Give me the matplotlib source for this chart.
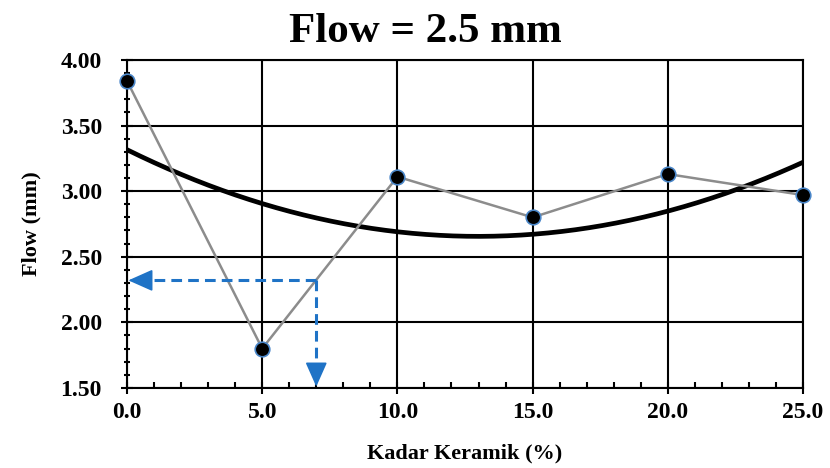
import numpy as np
import matplotlib.pyplot as plt
from matplotlib.ticker import MultipleLocator

plt.rcParams['font.family'] = ['Liberation Serif', 'DejaVu Serif']
plt.rcParams['font.weight'] = 'bold'

kadar = [0.0, 5.0, 10.0, 15.0, 20.0, 25.0]
flow = [3.84, 1.80, 3.11, 2.80, 3.13, 2.97]
target_flow = 2.32
target_kadar = 7.0

fig = plt.figure(figsize=(8.3, 4.68), dpi=100)
ax = fig.add_axes([0.153, 0.171, 0.8145, 0.701])

# quadratic trendline like excel
coef = np.polyfit(kadar, flow, 2)
xs = np.linspace(0, 25, 200)
ax.plot(xs, np.polyval(coef, xs), color='black', lw=3.4, zorder=3)

ax.plot(kadar, flow, color='#8c8c8c', lw=1.8, marker='o', ms=10.5,
        mfc='black', mec='#4a86c8', mew=1.2, zorder=4, clip_on=False)

# read-off arrows: dashed shaft + solid head
blue = '#1f73c6'
ax.plot([target_kadar, 0.5], [target_flow, target_flow], color=blue, lw=2.2,
        ls=(0, (3.5, 2)), zorder=5)
ax.plot([target_kadar, target_kadar], [target_flow, 1.62], color=blue, lw=2.2,
        ls=(0, (3.5, 2)), zorder=5)
head = dict(arrowstyle='-|>,head_length=0.9,head_width=0.4', color=blue,
            lw=1.2, mutation_scale=17, shrinkA=0, shrinkB=0)
ax.annotate('', xy=(0.05, target_flow), xytext=(0.8, target_flow),
            arrowprops=head, zorder=5)
ax.annotate('', xy=(target_kadar, 1.51), xytext=(target_kadar, 1.68),
            arrowprops=head, zorder=5)

ax.set_xlim(0, 25)
ax.set_ylim(1.5, 4.0)
ax.xaxis.set_major_locator(MultipleLocator(5))
ax.xaxis.set_minor_locator(MultipleLocator(1))
ax.yaxis.set_major_locator(MultipleLocator(0.5))
ax.yaxis.set_minor_locator(MultipleLocator(0.1))
ax.xaxis.set_major_formatter(plt.FuncFormatter(lambda v, p: f'{v:.1f}'))
ax.yaxis.set_major_formatter(plt.FuncFormatter(lambda v, p: f'{v:.2f}'))
ax.grid(True, which='major', color='black', lw=1.5)
ax.tick_params(which='major', direction='inout', length=8, width=1.5,
               labelsize=17)
ax.tick_params(axis='x', which='major', pad=6)
ax.tick_params(axis='y', which='major', pad=14)
ax.tick_params(axis='x', which='minor', direction='in', length=4, width=1.5)
ax.tick_params(axis='y', which='minor', direction='inout', length=5, width=1.5)
for s in ax.spines.values():
    s.set_linewidth(1.5)

ax.set_xlabel('Kadar Keramik (%)', fontsize=16, fontweight='bold', labelpad=15)
ax.set_ylabel('Flow (mm)', fontsize=16, fontweight='bold', labelpad=14)
fig.text(0.512, 0.932, 'Flow = 2.5 mm', fontsize=31, fontweight='bold',
         ha='center', va='center')

fig.savefig('out.png', dpi=100)
